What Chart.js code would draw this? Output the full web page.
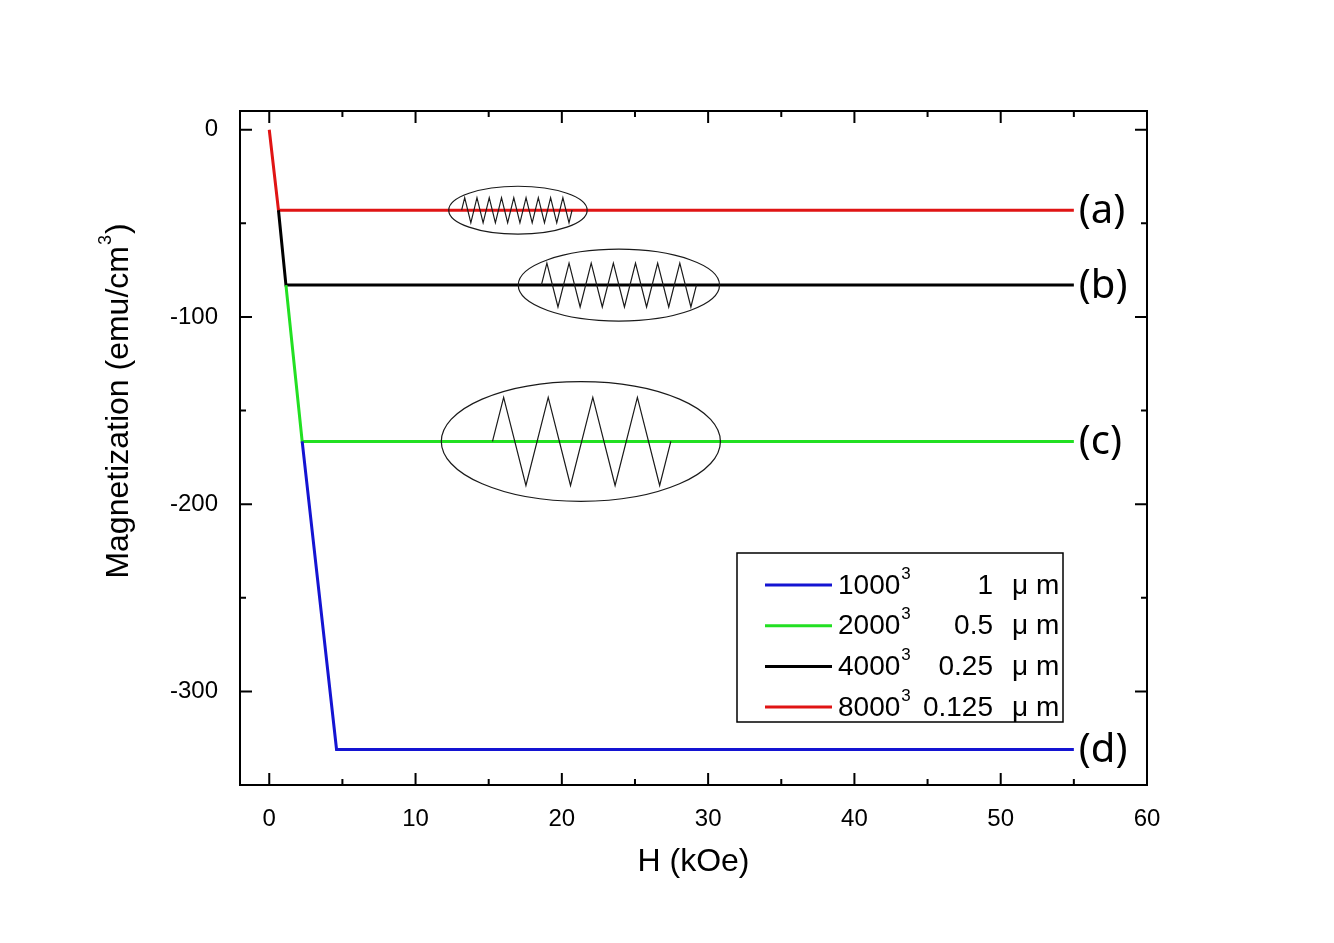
<!DOCTYPE html>
<html lang="en">
<head>
    <meta charset="UTF-8">
    <title>Magnetization vs H</title>
    <style>
        body { margin: 0; padding: 0; background: #fff; }
        #wrap { width: 1334px; height: 943px; }
    </style>
</head>
<body>
    <div id="wrap"><canvas id="magChart"></canvas></div>
    <script src="https://cdn.jsdelivr.net/npm/chart.js"></script>
    <script>
        // values: H in kOe, M in emu/cm^3
        var seriesTags = ['(d)', '(c)', '(b)', '(a)'];
        var gridSizes = ['1000', '2000', '4000', '8000'];
        var cellSizes = ['1', '0.5', '0.25', '0.125'];
        var lineColors = ['#1414d2', '#22e022', '#000000', '#e01414'];

        var hBlue  = [2.25, 4.6, 55];
        var mBlue  = [-166.5, -331, -331];
        var hGreen = [1.14, 2.25, 55];
        var mGreen = [-83, -166.5, -166.5];
        var hBlack = [0.63, 1.14, 55];
        var mBlack = [-43, -83, -83];
        var hRed   = [0, 0.63, 55];
        var mRed   = [0, -43, -43];

        var xTicks = [0, 10, 20, 30, 40, 50, 60];
        var yTicks = [0, -100, -200, -300];

        // spring sketches drawn over the plateaus (centre, radii, zigzag span, amplitude, peaks) in data units
        var springs = [
            { cx: 17.0, cy: -43,    rx: 4.73, ry: 12.8, x0: 13.15, x1: 20.7,  amp: 6.7,  n: 9 },
            { cx: 23.9, cy: -83,    rx: 6.88, ry: 19.2, x0: 18.6,  x1: 29.2,  amp: 11.7, n: 7 },
            { cx: 21.3, cy: -166.5, rx: 9.54, ry: 32,   x0: 15.26, x1: 27.45, amp: 23.5, n: 4 }
        ];

        function pts(xs, ys) {
            return xs.map(function(x, i) { return { x: x, y: ys[i] }; });
        }

        var series = [pts(hBlue, mBlue), pts(hGreen, mGreen), pts(hBlack, mBlack), pts(hRed, mRed)];

        var datasets = series.map(function(d, i) {
            return {
                label: gridSizes[i] + '\u00b3 ' + cellSizes[i] + ' \u03bcm',
                data: d,
                borderColor: lineColors[i],
                backgroundColor: lineColors[i],
                borderWidth: 3,
                pointRadius: 0,
                tension: 0
            };
        });

        var decor = {
            id: 'decor',
            afterDatasetsDraw: function(chart) {
                var ctx = chart.ctx, ca = chart.chartArea;
                var xs = chart.scales.x, ys = chart.scales.y;
                ctx.save();

                // ellipses + zigzags
                ctx.strokeStyle = '#1a1a1a';
                ctx.lineWidth = 1.2;
                springs.forEach(function(s) {
                    var cx = xs.getPixelForValue(s.cx), cy = ys.getPixelForValue(s.cy);
                    var rx = xs.getPixelForValue(s.cx + s.rx) - cx;
                    var ry = cy - ys.getPixelForValue(s.cy + s.ry);
                    ctx.beginPath();
                    ctx.ellipse(cx, cy, rx, ry, 0, 0, Math.PI * 2);
                    ctx.stroke();

                    var px0 = xs.getPixelForValue(s.x0), px1 = xs.getPixelForValue(s.x1);
                    var a = cy - ys.getPixelForValue(s.cy + s.amp);
                    var p = (px1 - px0) / s.n;
                    ctx.beginPath();
                    ctx.moveTo(px0, cy);
                    for (var k = 0; k < s.n; k++) {
                        ctx.lineTo(px0 + p * (k + 0.25), cy - a);
                        ctx.lineTo(px0 + p * (k + 0.75), cy + a);
                    }
                    ctx.lineTo(px1, cy);
                    ctx.stroke();
                });

                // (a)-(d) tags at the line ends
                ctx.fillStyle = '#000';
                ctx.font = '40px "Noto Sans"';
                ctx.textBaseline = 'middle';
                ctx.textAlign = 'left';
                series.forEach(function(d, i) {
                    var last = d[d.length - 1];
                    ctx.fillText(seriesTags[i], xs.getPixelForValue(last.x) + 5, ys.getPixelForValue(last.y) + 1);
                });

                // frame with inward ticks on every side
                ctx.strokeStyle = '#000';
                ctx.lineWidth = 2;
                ctx.strokeRect(ca.left, ca.top, ca.right - ca.left, ca.bottom - ca.top);
                function tick(vals, len, horiz) {
                    vals.forEach(function(v) {
                        ctx.beginPath();
                        if (horiz) {
                            var px = xs.getPixelForValue(v);
                            ctx.moveTo(px, ca.bottom); ctx.lineTo(px, ca.bottom - len);
                            ctx.moveTo(px, ca.top); ctx.lineTo(px, ca.top + len);
                        } else {
                            var py = ys.getPixelForValue(v);
                            ctx.moveTo(ca.left, py); ctx.lineTo(ca.left + len, py);
                            ctx.moveTo(ca.right, py); ctx.lineTo(ca.right - len, py);
                        }
                        ctx.stroke();
                    });
                }
                var xMinor = xTicks.slice(0, -1).map(function(v) { return v + 5; });
                var yMinor = yTicks.map(function(v) { return v - 50; }).filter(function(v) { return v > -350; });
                tick(xTicks, 12, true);
                tick(xMinor, 6, true);
                tick(yTicks, 12, false);
                tick(yMinor, 6, false);

                // y axis title with a raised 3
                ctx.save();
                ctx.translate(119, ca.top + 290);
                ctx.rotate(-Math.PI / 2);
                ctx.fillStyle = '#000';
                ctx.textBaseline = 'middle';
                ctx.textAlign = 'left';
                var t1 = 'Magnetization (emu/cm', t2 = ')';
                ctx.font = '32px "Liberation Sans"';
                var w1 = ctx.measureText(t1).width, w2 = ctx.measureText(t2).width;
                ctx.font = '18px "Liberation Sans"';
                var w3 = ctx.measureText('3').width;
                var x0 = -(w1 + w2 + w3 + 2) / 2;
                ctx.font = '32px "Liberation Sans"';
                ctx.fillText(t1, x0, 0);
                ctx.fillText(t2, x0 + w1 + w3 + 2, 0);
                ctx.font = '18px "Liberation Sans"';
                ctx.fillText('3', x0 + w1 + 1, -13);
                ctx.restore();

                // legend box
                var L = ca.right - 410, T = ca.bottom - 232, W = 326, H = 169;
                ctx.fillStyle = '#fff';
                ctx.fillRect(L, T, W, H);
                ctx.strokeStyle = '#000';
                ctx.lineWidth = 1.5;
                ctx.strokeRect(L, T, W, H);
                gridSizes.forEach(function(g, i) {
                    var y = T + 32 + i * 40.7;
                    ctx.strokeStyle = lineColors[i];
                    ctx.lineWidth = 3;
                    ctx.beginPath();
                    ctx.moveTo(L + 28, y); ctx.lineTo(L + 95, y);
                    ctx.stroke();
                    ctx.fillStyle = '#000';
                    ctx.textBaseline = 'middle';
                    ctx.textAlign = 'left';
                    ctx.font = '28px "Liberation Sans"';
                    ctx.fillText(g, L + 101, y + 1);
                    var gw = ctx.measureText(g).width;
                    ctx.font = '17px "Liberation Sans"';
                    ctx.fillText('3', L + 102 + gw, y - 11);
                    ctx.font = '28px "Liberation Sans"';
                    ctx.textAlign = 'right';
                    ctx.fillText(cellSizes[i], L + 256, y + 1);
                    ctx.textAlign = 'left';
                    ctx.fillText('\u03bc m', L + 275, y + 1);
                });
                ctx.restore();
            }
        };

        var ctx = document.getElementById('magChart').getContext('2d');
        var myChart = new Chart(ctx, {
            type: 'line',
            data: { datasets: datasets },
            options: {
                responsive: true,
                maintainAspectRatio: false,
                animation: false,
                layout: { padding: { left: 100, top: 111, right: 187, bottom: 62 } },
                plugins: {
                    legend: { display: false },
                    tooltip: { enabled: false }
                },
                scales: {
                    x: {
                        type: 'linear',
                        min: -2,
                        max: 60,
                        grid: { display: false },
                        border: { display: false },
                        afterBuildTicks: function(s) { s.ticks = xTicks.map(function(v) { return { value: v }; }); },
                        afterFit: function(s) { s.height = 96; },
                        ticks: {
                            color: '#000',
                            padding: 12,
                            maxRotation: 0,
                            font: { family: 'Liberation Sans', size: 24 }
                        },
                        title: {
                            display: true,
                            text: 'H (kOe)',
                            color: '#000',
                            padding: 0,
                            font: { family: 'Liberation Sans', size: 32 }
                        }
                    },
                    y: {
                        min: -350,
                        max: 10,
                        grid: { display: false },
                        border: { display: false },
                        afterBuildTicks: function(s) { s.ticks = yTicks.map(function(v) { return { value: v }; }); },
                        afterFit: function(s) { s.width = 140; },
                        ticks: {
                            color: '#000',
                            padding: 14,
                            font: { family: 'Liberation Sans', size: 24 }
                        }
                    }
                }
            },
            plugins: [decor]
        });
    </script>
</body>
</html>
